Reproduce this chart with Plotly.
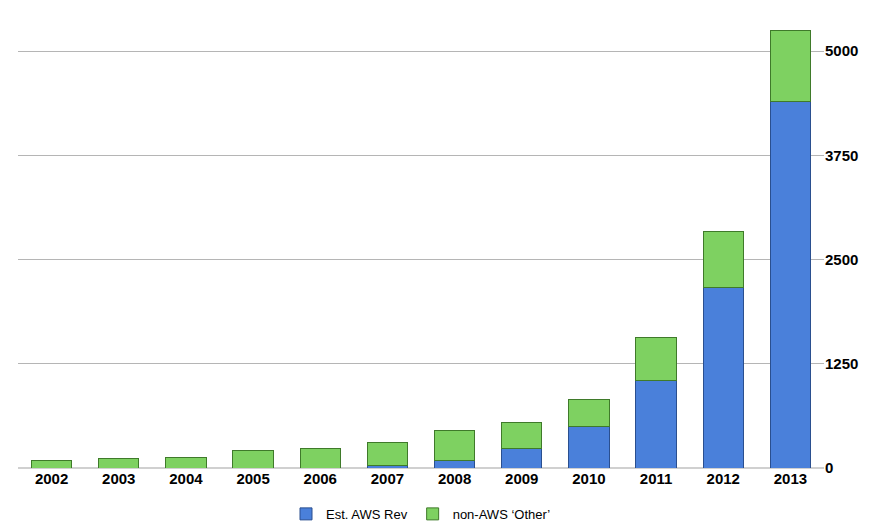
import plotly.graph_objects as go

years = ["2002", "2003", "2004", "2005", "2006", "2007", "2008",
         "2009", "2010", "2011", "2012", "2013"]
aws_rev = [0, 0, 0, 0, 0, 25, 95, 235, 500, 1050, 2170, 4400]
total_other = [95, 115, 130, 210, 235, 305, 445, 540, 820, 1560, 2840, 5250]
non_aws = [t - a for t, a in zip(total_other, aws_rev)]
tick_vals = [0, 1250, 2500, 3750, 5000]

fig = go.Figure()
fig.add_trace(go.Bar(
    x=years, y=aws_rev, name="Est. AWS Rev",
    marker=dict(color="#4a80da", line=dict(color="#2a4f8f", width=1)),
))
fig.add_trace(go.Bar(
    x=years, y=non_aws, name="non-AWS \u2018Other\u2019",
    marker=dict(color="#7ed161", line=dict(color="#3f7a2a", width=1)),
))

fig.update_layout(
    barmode="stack", bargap=0.4,
    width=891, height=531,
    paper_bgcolor="white", plot_bgcolor="white",
    margin=dict(l=10, r=75, t=18, b=48),
    font=dict(family="Liberation Sans, Arial", size=15, color="black"),
    legend=dict(orientation="h", x=0.5, xanchor="center", y=-0.07,
                yanchor="top", font=dict(size=13), traceorder="normal"),
    xaxis=dict(tickfont=dict(size=15, weight="bold"), showline=False),
    yaxis=dict(side="right", tickvals=tick_vals, range=[0, 5300],
               tickfont=dict(size=15, weight="bold"),
               showgrid=True, gridcolor="#b5b5b5", gridwidth=1,
               zeroline=True, zerolinecolor="#d0d0d0"),
)
fig.write_html("out.html")
